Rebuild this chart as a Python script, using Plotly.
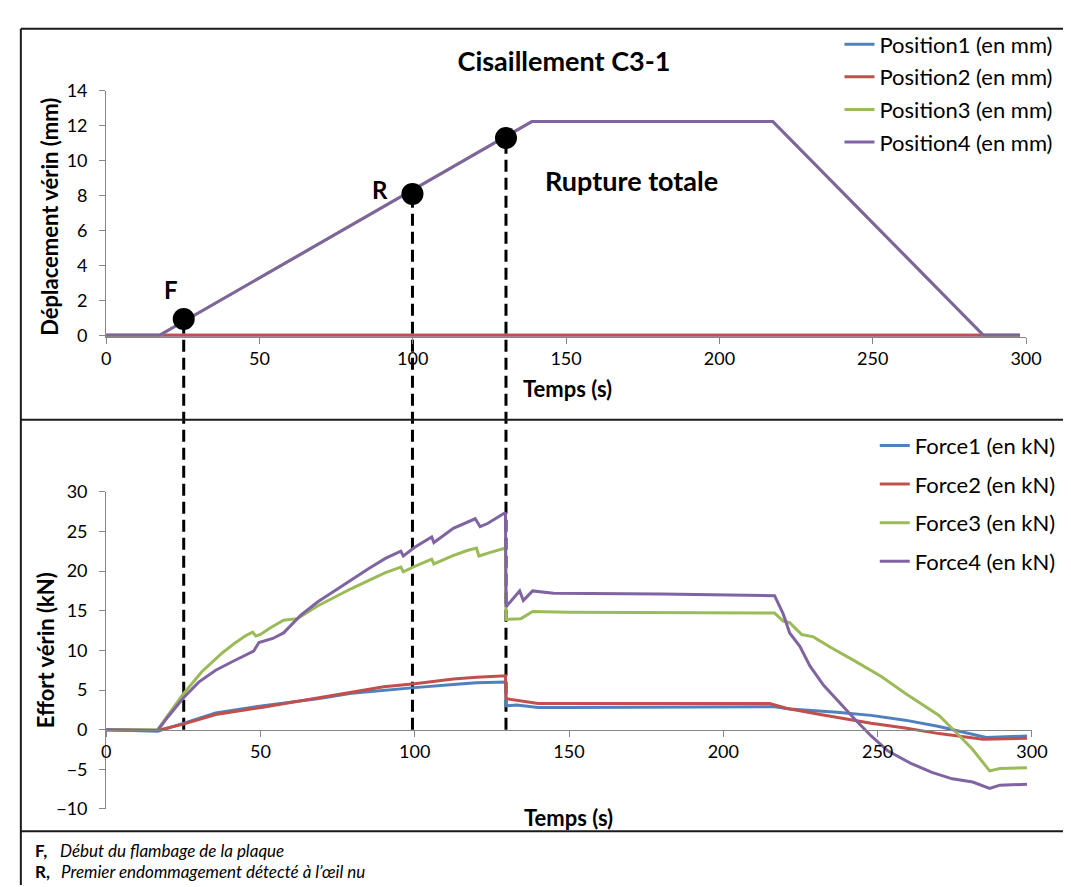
import plotly.graph_objects as go

W, H = 1071, 887
FONT = "Lato"

def px(x):
    return x / W

def py(y):
    return 1 - y / H

# ---------------- data ----------------
# Top panel: actuator displacement (mm) vs time (s)
pos_t = [0, 17.4, 138.9, 217.4, 286.1, 298.0]
pos1 = [0, 0, 0, 0, 0, 0]
pos2 = [0, 0, 0, 0, 0, 0]
pos3 = [0, 0, 12.25, 12.25, 0, 0]
pos4 = [0, 0, 12.25, 12.25, 0, 0]
pos_names = ["Position1 (en mm)", "Position2 (en mm)", "Position3 (en mm)", "Position4 (en mm)"]

# Events (F, R, total rupture)
event_t = [25.3, 99.9, 130.4]
event_y = [0.93, 8.1, 11.3]
event_labels = ["F", "R", "Rupture totale"]

# Bottom panel: actuator force (kN) vs time (s)
f1_t = [0, 16.7, 25, 35.5, 50.3, 68.5, 79.5, 90, 100, 112.5, 120, 129.4, 129.6, 133, 140, 150, 216.6,
        221.5, 236.9, 247.9, 258.9, 269.9, 285.2, 298.4]
f1 = [0, -0.2, 0.8, 2.1, 3.0, 3.9, 4.6, 5.0, 5.3, 5.7, 5.9, 6.0, 3.0, 3.1, 2.8, 2.8, 2.9,
      2.6, 2.2, 1.8, 1.2, 0.4, -1.0, -0.8]

f2_t = [0, 16.7, 25, 35.5, 50.3, 68.5, 79.5, 90, 100, 112.5, 120, 129.4, 129.6, 133, 140, 150, 215,
        220.4, 231.4, 247.9, 258.9, 269.9, 284.1, 298.4]
f2 = [0, -0.1, 0.7, 1.9, 2.8, 4.0, 4.8, 5.4, 5.8, 6.4, 6.6, 6.8, 3.9, 3.7, 3.3, 3.3, 3.3,
      2.7, 1.9, 0.8, 0.2, -0.5, -1.2, -1.1]

f3_t = [0, 16.7, 20, 25, 31, 37.7, 42, 45.4, 47.5, 48.5, 50, 53, 57.5, 62, 68.5, 79.5, 90.5, 95.5, 96.3,
        100, 105.5, 106.2, 112, 117, 120, 120.8, 124, 129.4, 129.6, 134.4, 138.2, 150, 216.6,
        219.4, 221.5, 225.4, 229.2, 234.7, 242.4, 251.2, 258.9, 264.3, 269.9, 275.3, 280.8, 286.3,
        289.6, 298.4]
f3 = [0, 0, 1.8, 4.5, 7.3, 9.7, 11.0, 11.9, 12.3, 11.8, 12.0, 12.8, 13.8, 14.0, 15.6, 17.8, 19.8, 20.5, 19.9,
      20.6, 21.5, 20.9, 21.9, 22.6, 22.9, 21.9, 22.3, 22.9, 13.9, 14.0, 14.9, 14.8, 14.7,
      13.7, 13.5, 12.0, 11.7, 10.4, 8.7, 6.7, 4.6, 3.2, 1.8, -0.3, -2.5, -5.2,
      -4.9, -4.8]

f4_t = [0, 16.7, 20, 25, 30, 35.5, 41, 46.5, 47.8, 49.5, 54, 57.5, 60, 63, 68.5, 74, 79.5, 85, 90.5,
        95.5, 96.3, 100, 105.5, 106.2, 112.5, 119.6, 121.2, 123.6, 129.4, 129.6, 134, 135.2, 138.2,
        145, 180, 216.6, 219.4, 221.5, 224.8, 228.1, 232.5, 236.9, 242.4, 247.9, 253.4, 261, 267.6,
        274.2, 280.8, 286.3, 289.6, 298.4]
f4 = [0, -0.1, 1.6, 4.0, 6.0, 7.5, 8.6, 9.7, 9.9, 11.0, 11.5, 12.2, 13.2, 14.4, 16.1, 17.5, 19.0, 20.3, 21.6,
      22.5, 21.9, 23.0, 24.3, 23.6, 25.4, 26.6, 25.6, 26.0, 27.4, 15.5, 17.5, 16.3, 17.5,
      17.2, 17.1, 16.9, 14.6, 12.2, 10.5, 8.0, 5.6, 3.7, 1.4, -0.8, -2.7, -4.3, -5.4,
      -6.2, -6.6, -7.4, -7.0, -6.9]
force_names = ["Force1 (en kN)", "Force2 (en kN)", "Force3 (en kN)", "Force4 (en kN)"]

colors = ["#4F81BD", "#C0504D", "#9BBB59", "#8064A2"]

# ---------------- layout geometry ----------------
top_range = [-0.09, 14]
top_dom = [py(324.9), py(72.7)]
bot_range = [-10, 30]
bot_dom = [py(809), py(483.8)]
bot_zero_paper = bot_dom[0] + (0 - bot_range[0]) / (bot_range[1] - bot_range[0]) * (bot_dom[1] - bot_dom[0])

fig = go.Figure()

for name, vals, c, i in zip(pos_names, [pos1, pos2, pos3, pos4], colors, range(4)):
    fig.add_trace(go.Scatter(x=pos_t, y=vals, mode="lines", name=name,
                             line=dict(color=c, width=3), xaxis="x", yaxis="y",
                             legend="legend", legendgroup="p%d" % i))

for name, tt, vals, c, i in zip(force_names, [f1_t, f2_t, f3_t, f4_t], [f1, f2, f3, f4], colors, range(4)):
    fig.add_trace(go.Scatter(x=tt, y=vals, mode="lines", name=name,
                             line=dict(color=c, width=3), xaxis="x2", yaxis="y2",
                             legend="legend2", legendgroup="f%d" % i))

fig.add_trace(go.Scatter(x=event_t, y=event_y, mode="markers", showlegend=False,
                         marker=dict(color="black", size=22), xaxis="x", yaxis="y",
                         cliponaxis=False))

shapes = []
for et, ey in zip(event_t, event_y):
    y_top = top_dom[0] + (ey - top_range[0]) / (top_range[1] - top_range[0]) * (top_dom[1] - top_dom[0])
    shapes.append(dict(type="line", xref="x", yref="paper", x0=et, x1=et, y0=bot_zero_paper, y1=y_top,
                       line=dict(color="black", width=3, dash="12px,6px"), layer="below"))

frame = dict(color="#1a1a1a", width=2)
shapes += [
    dict(type="line", xref="paper", yref="paper", x0=px(8), x1=px(8), y0=0, y1=py(9), line=frame),
    dict(type="line", xref="paper", yref="paper", x0=px(8), x1=1, y0=py(9), y1=py(9), line=frame),
    dict(type="line", xref="paper", yref="paper", x0=px(8), x1=1, y0=py(410), y1=py(410), line=frame),
    dict(type="line", xref="paper", yref="paper", x0=px(8), x1=1, y0=py(832), y1=py(832), line=frame),
]

annotations = []
shifts = [(-13, 30, 24), (-32, 4, 24), (126, -42, 27)]
for et, ey, lab, (dx, dy, fs) in zip(event_t, event_y, event_labels, shifts):
    annotations.append(dict(x=et, y=ey, xref="x", yref="y", text="<b>%s</b>" % lab, showarrow=False,
                            xanchor="center", yanchor="middle",
                            xshift=dx, yshift=dy, font=dict(family=FONT, size=fs, color="black")))

title_font = dict(family=FONT, size=22, color="black")
annotations += [
    dict(x=px(565.5), y=py(378), xref="paper", yref="paper", text="<b>Temps (s)</b>",
         xanchor="center", yanchor="middle", showarrow=False, font=title_font),
    dict(x=px(566.7), y=py(818), xref="paper", yref="paper", text="<b>Temps (s)</b>",
         xanchor="center", yanchor="middle", showarrow=False, font=title_font),
    dict(x=px(37), y=py(201.5), xref="paper", yref="paper", text="<b>Déplacement vérin (mm)</b>",
         xanchor="center", yanchor="middle", textangle=-90, showarrow=False, font=title_font),
    dict(x=px(34), y=py(646), xref="paper", yref="paper", text="<b>Effort vérin (kN)</b>",
         xanchor="center", yanchor="middle", textangle=-90, showarrow=False, font=title_font),
]

note_font = dict(family=FONT, size=17, color="black")
annotations += [
    dict(x=px(20), y=py(852), xref="paper", yref="paper", xanchor="left", yanchor="middle",
         text="<b>F,</b>", showarrow=False, font=note_font),
    dict(x=px(46), y=py(852), xref="paper", yref="paper", xanchor="left", yanchor="middle",
         text="<i>Début du flambage de la plaque</i>", showarrow=False, font=note_font),
    dict(x=px(20), y=py(873), xref="paper", yref="paper", xanchor="left", yanchor="middle",
         text="<b>R,</b>", showarrow=False, font=note_font),
    dict(x=px(47), y=py(873), xref="paper", yref="paper", xanchor="left", yanchor="middle",
         text="<i>Premier endommagement détecté à l’œil nu</i>", showarrow=False, font=note_font),
]

axis_common = dict(showgrid=False, zeroline=False, showline=True, linecolor="#868686", linewidth=1,
                   ticks="outside", ticklen=6, tickcolor="#868686",
                   tickfont=dict(family=FONT, size=18, color="black"))

fig.update_layout(
    width=W, height=H,
    margin=dict(l=0, r=0, t=0, b=0),
    paper_bgcolor="white", plot_bgcolor="rgba(0,0,0,0)",
    font=dict(family=FONT, color="black"),
    title=dict(text="<b>Cisaillement C3-1</b>", x=px(562), y=py(43), xanchor="center", yanchor="middle",
               xref="paper", yref="paper", font=dict(family=FONT, size=27, color="black")),
    xaxis=dict(domain=[px(95), px(1033.3)], range=[0, 300], dtick=50, anchor="y", **axis_common),
    yaxis=dict(domain=top_dom, range=top_range, tickvals=[0, 2, 4, 6, 8, 10, 12, 14], anchor="x",
               ticklabelstandoff=8, **axis_common),
    xaxis2=dict(domain=[px(95), px(1039.3)], range=[0, 300], dtick=50, anchor="free",
                position=bot_zero_paper, **axis_common),
    yaxis2=dict(domain=bot_dom, range=bot_range, dtick=5, anchor="x2", ticklabelstandoff=8,
                **axis_common),
    legend=dict(x=px(843), y=py(3.5), xanchor="left", yanchor="top", bgcolor="rgba(0,0,0,0)",
                font=dict(family=FONT, size=22, color="black"), tracegroupgap=1, traceorder="grouped"),
    legend2=dict(x=px(879), y=py(415), xanchor="left", yanchor="top", bgcolor="rgba(0,0,0,0)",
                 font=dict(family=FONT, size=22, color="black"), tracegroupgap=7, traceorder="grouped"),
    shapes=shapes,
    annotations=annotations,
)

fig.write_html("out.html")
